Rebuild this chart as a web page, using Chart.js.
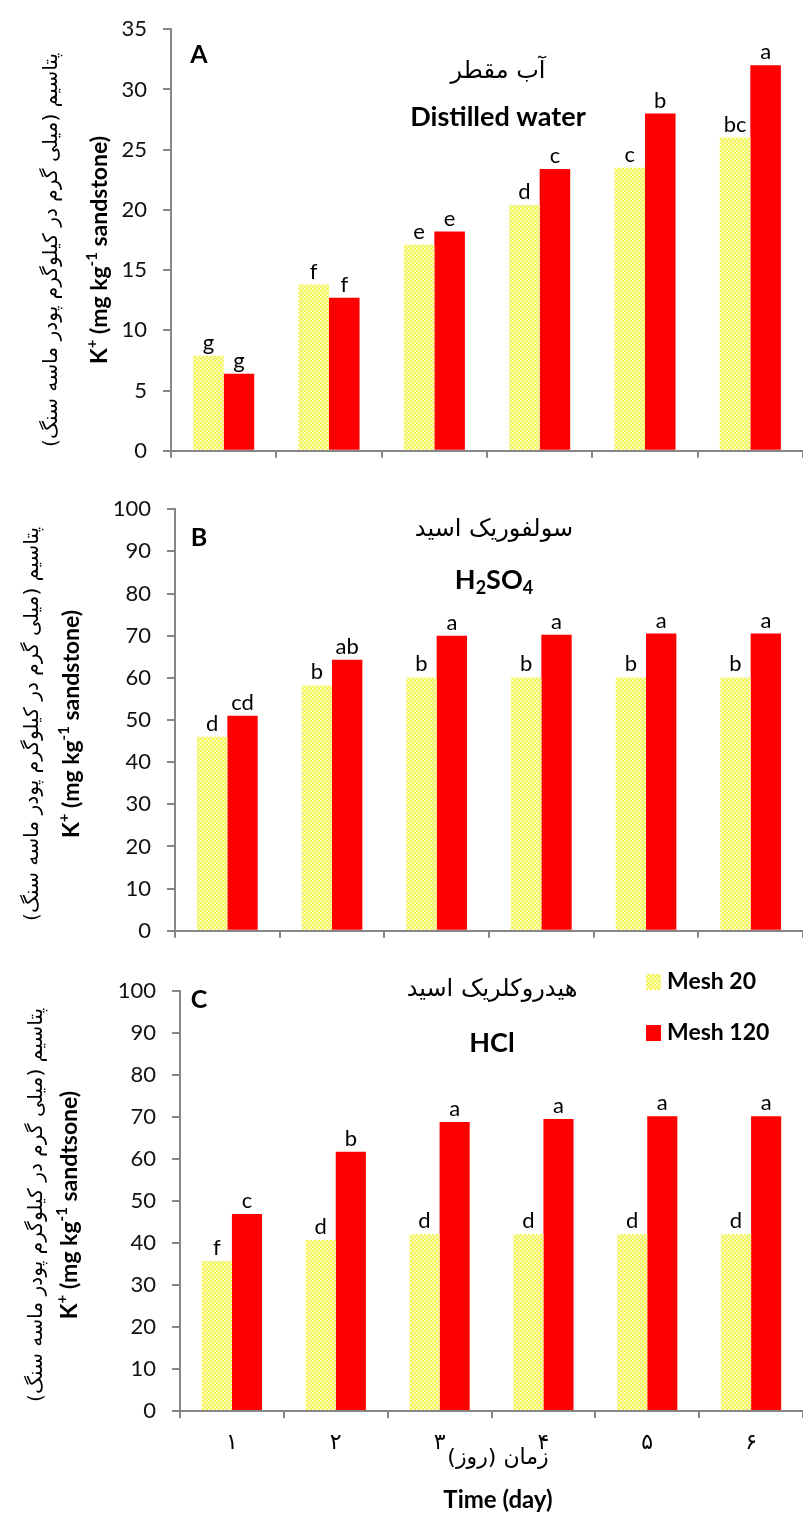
<!DOCTYPE html>
<html>
<head>
<meta charset="utf-8">
<script src="https://cdn.jsdelivr.net/npm/chart.js@4.4.0/dist/chart.umd.min.js"></script>
<style>
  body { margin: 0; background: #fff; width: 803px; height: 1513px; overflow: hidden; position: relative; }
  .panel { position: absolute; left: 0; width: 803px; }
</style>
</head>
<body>
<div class="panel" style="top:0;height:480px"><canvas id="chartA"></canvas></div>
<div class="panel" style="top:480px;height:480px"><canvas id="chartB"></canvas></div>
<div class="panel" style="top:960px;height:553px"><canvas id="chartC"></canvas></div>
<script>
// categories (days, Persian digits) and series
const days = ['۱', '۲', '۳', '۴', '۵', '۶'];
const seriesNames = ['Mesh 20', 'Mesh 120'];

// A - distilled water
const waterMesh20 = [7.9, 13.8, 17.1, 20.4, 23.5, 26.0];
const waterMesh120 = [6.4, 12.7, 18.2, 23.4, 28.0, 32.0];
const waterLetters20 = ['g', 'f', 'e', 'd', 'c', 'bc'];
const waterLetters120 = ['g', 'f', 'e', 'c', 'b', 'a'];

// B - sulfuric acid
const sulfMesh20 = [46.0, 58.2, 60.1, 60.1, 60.1, 60.1];
const sulfMesh120 = [51.0, 64.3, 70.0, 70.2, 70.5, 70.5];
const sulfLetters20 = ['d', 'b', 'b', 'b', 'b', 'b'];
const sulfLetters120 = ['cd', 'ab', 'a', 'a', 'a', 'a'];

// C - hydrochloric acid
const hclMesh20 = [35.7, 40.7, 42.1, 42.1, 42.1, 42.1];
const hclMesh120 = [46.9, 61.7, 68.8, 69.5, 70.2, 70.2];
const hclLetters20 = ['f', 'd', 'd', 'd', 'd', 'd'];
const hclLetters120 = ['c', 'b', 'a', 'a', 'a', 'a'];

// y axis ranges
const yMaxA = 35, yStepA = 5;
const yMaxBC = 100, yStepBC = 10;

const AXIS = '#868686';
const EN = 'Lato, "Open Sans", sans-serif';
const FA = '"DejaVu Sans", sans-serif';
const yTitleFa = 'پتاسیم (میلی گرم در کیلوگرم پودر ماسه سنگ)';

// yellow dotted fill like the excel pattern
function yellowPattern() {
    const c = document.createElement('canvas');
    c.width = 4; c.height = 4;
    const g = c.getContext('2d');
    g.fillStyle = '#f3f35e';
    g.fillRect(0, 0, 4, 4);
    g.fillStyle = '#fbfbb0';
    g.fillRect(0, 0, 2, 2);
    g.fillRect(2, 2, 2, 2);
    return g.createPattern(c, 'repeat');
}
const yellow = yellowPattern();

// draws text made of normal / sup / sub pieces, centred on x
function drawRich(ctx, segs, x, y, size, weight) {
    const fontFor = t => weight + ' ' + (t === 'n' ? size : Math.round(size * 0.65)) + 'px ' + EN;
    let total = 0;
    segs.forEach(s => { ctx.font = fontFor(s[1]); total += ctx.measureText(s[0]).width; });
    let cx = x - total / 2;
    ctx.textAlign = 'left';
    ctx.textBaseline = 'middle';
    segs.forEach(s => {
        ctx.font = fontFor(s[1]);
        let dy = 0;
        if (s[1] === 'sup') dy = -size * 0.32;
        if (s[1] === 'sub') dy = size * 0.3;
        ctx.fillText(s[0], cx, y + dy);
        cx += ctx.measureText(s[0]).width;
    });
}

function drawFa(ctx, text, x, y, size, width) {
    ctx.direction = 'rtl';
    ctx.textAlign = 'center';
    ctx.textBaseline = 'middle';
    ctx.font = size + 'px ' + FA;
    if (width) {
        const w = ctx.measureText(text).width;
        ctx.font = (size * width / w).toFixed(1) + 'px ' + FA;
    }
    ctx.fillText(text, x, y);
    ctx.direction = 'ltr';
}

const panelText = {
    id: 'panelText',
    afterDraw(chart, args, o) {
        const ctx = chart.ctx;
        ctx.save();
        ctx.fillStyle = '#000';
        // letters over the bars
        ctx.font = '22px ' + EN;
        ctx.textAlign = 'center';
        ctx.textBaseline = 'alphabetic';
        chart.data.datasets.forEach((ds, i) => {
            chart.getDatasetMeta(i).data.forEach((bar, j) => {
                ctx.fillText(o.letters[i][j], bar.x, bar.y - 6);
            });
        });
        // panel letter and titles
        ctx.font = 'bold 25px ' + EN;
        ctx.textBaseline = 'middle';
        ctx.fillText(o.tag, 199, o.tagY);
        drawFa(ctx, o.fa, o.cx, o.faY, 24);
        drawRich(ctx, o.en, o.cx, o.enY, 27, 'bold');
        // y axis titles
        ctx.save();
        ctx.translate(o.yFaX, o.yCy);
        ctx.rotate(-Math.PI / 2);
        drawFa(ctx, yTitleFa, 0, 0, 19, 395);
        ctx.restore();
        ctx.save();
        ctx.translate(o.yEnX, o.yCy);
        ctx.rotate(-Math.PI / 2);
        drawRich(ctx, [['K', 'n'], ['+', 'sup'], [' (mg kg', 'n'], ['-1', 'sup'], [' ' + o.yWord + ')', 'n']], 0, 0, 23, 'bold');
        ctx.restore();
        // legend
        if (o.legend) {
            chart.data.datasets.forEach((ds, i) => {
                const y = o.legend.y[i];
                ctx.fillStyle = ds.backgroundColor;
                ctx.fillRect(o.legend.x, y - 8, 15, 16);
                ctx.fillStyle = '#000';
                ctx.font = 'bold 23px ' + EN;
                ctx.textAlign = 'left';
                ctx.textBaseline = 'middle';
                ctx.fillText(ds.label, o.legend.x + 21, y);
            });
        }
        // x axis titles
        if (o.xTitle) {
            drawFa(ctx, 'زمان (روز)', o.xTitle.x, o.xTitle.faY, 22);
            ctx.textAlign = 'center';
            ctx.textBaseline = 'middle';
            ctx.font = 'bold 24px ' + EN;
            ctx.fillText('Time (day)', o.xTitle.x, o.xTitle.enY);
        }
        ctx.restore();
    }
};

function makeChart(id, d20, d120, letters, yMax, yStep, axisX, padTop, xHeight, showDays, text) {
    return new Chart(document.getElementById(id), {
        type: 'bar',
        data: {
            labels: days,
            datasets: [
                { label: seriesNames[0], data: d20, backgroundColor: yellow },
                { label: seriesNames[1], data: d120, backgroundColor: '#ff0000' }
            ]
        },
        options: {
            responsive: true,
            maintainAspectRatio: false,
            animation: false,
            layout: { padding: { top: padTop, right: 0, left: 0, bottom: 0 } },
            datasets: { bar: { categoryPercentage: 0.58, barPercentage: 1.0 } },
            plugins: {
                legend: { display: false },
                tooltip: { enabled: false },
                panelText: Object.assign({ letters: letters }, text)
            },
            scales: {
                x: {
                    offset: true,
                    grid: { offset: true, drawOnChartArea: false, drawTicks: true, tickLength: 7, color: AXIS, lineWidth: 2 },
                    border: { color: AXIS, width: 2 },
                    ticks: { display: showDays, padding: 12, color: '#000', font: { family: FA, size: 22 } },
                    afterFit(scale) { scale.height = xHeight; }
                },
                y: {
                    min: 0,
                    max: yMax,
                    ticks: { stepSize: yStep, padding: 16, color: '#111', font: { family: EN, size: 22 } },
                    grid: { drawOnChartArea: false, drawTicks: true, tickLength: 8, color: AXIS, lineWidth: 2 },
                    border: { color: AXIS, width: 2 },
                    afterFit(scale) { scale.width = axisX; }
                }
            }
        },
        plugins: [panelText]
    });
}

makeChart('chartA', waterMesh20, waterMesh120, [waterLetters20, waterLetters120], yMaxA, yStepA, 171, 23, 26, false, {
    tag: 'A', tagY: 55, cx: 498, fa: 'آب مقطر', faY: 72,
    en: [['Distilled water', 'n']], enY: 117,
    yFaX: 52, yEnX: 100, yCy: 250, yWord: 'sandstone'
});

makeChart('chartB', sulfMesh20, sulfMesh120, [sulfLetters20, sulfLetters120], yMaxBC, yStepBC, 175, 29, 25, false, {
    tag: 'B', tagY: 58, cx: 494, fa: 'سولفوریک اسید', faY: 50,
    en: [['H', 'n'], ['2', 'sub'], ['SO', 'n'], ['4', 'sub']], enY: 100,
    yFaX: 33, yEnX: 72, yCy: 244, yWord: 'sandstone'
});

makeChart('chartC', hclMesh20, hclMesh120, [hclLetters20, hclLetters120], yMaxBC, yStepBC, 180, 31, 102, true, {
    tag: 'C', tagY: 40, cx: 492, fa: 'هیدروکلریک اسید', faY: 30,
    en: [['HCl', 'n']], enY: 83,
    yFaX: 37, yEnX: 70, yCy: 245, yWord: 'sandtsone',
    legend: { x: 646, y: [22, 73] },
    xTitle: { x: 498, faY: 498, enY: 540 }
});
</script>
</body>
</html>
